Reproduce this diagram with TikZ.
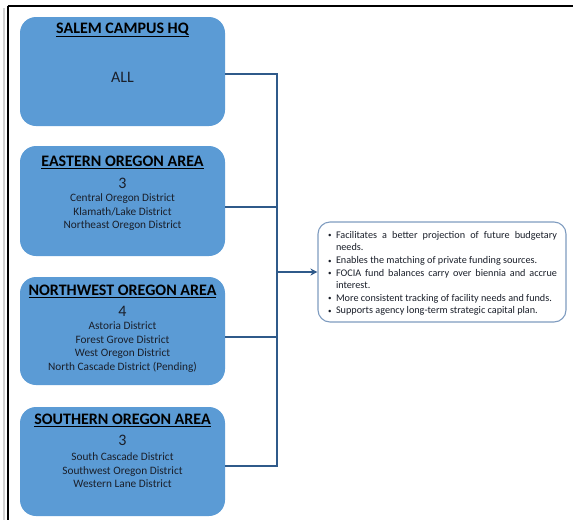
\documentclass[tikz,border=0pt]{standalone}
\usepackage{fontspec}
\setmainfont{Carlito}
\usepackage{enumitem}
\usetikzlibrary{arrows.meta}
\definecolor{boxblue}{HTML}{5B9BD5}
\definecolor{linkblue}{HTML}{2F5A8A}
\definecolor{edgeblue}{HTML}{7F9CC0}
\definecolor{inktxt}{HTML}{1A1F2A}
\tikzset{
  area/.style={draw=none, fill=boxblue, rounded corners=16pt, minimum width=205pt, inner sep=0pt},
  ttl/.style={font=\bfseries\fontsize{16}{18}\selectfont, text=black, inner sep=0pt},
  num/.style={font=\fontsize{16}{18}\selectfont, text=inktxt, inner sep=0pt},
  dist/.style={font=\fontsize{11.3}{13.5}\selectfont, text=inktxt, align=center, inner sep=0pt},
  link/.style={draw=linkblue, line width=2.6pt},
  note/.style={draw=edgeblue, line width=1.1pt, fill=white, rounded corners=12pt, minimum width=248pt, minimum height=100pt, inner sep=0pt}
}
\begin{document}
\begin{tikzpicture}[x=1pt,y=-1pt]
\useasboundingbox (0,0) rectangle (573,520);
% outer frame (clipped)
\draw[gray!35, line width=2pt] (4,8) -- (4,520);
\draw[black, line width=2pt] (7.5,6) -- (7.5,520);
\draw[black, line width=2pt] (7.5,6) -- (573,6);
% area boxes
\node[area, minimum height=109pt] (hq) at (122.5,71.5) {};
\node[area, minimum height=110pt] (ea) at (122.5,201) {};
\node[area, minimum height=108pt] (nw) at (122.5,331) {};
\node[area, minimum height=109pt] (so) at (122.5,461.5) {};
% texts
\node[ttl] (hqt) at (122.5,30) {\underline{SALEM CAMPUS HQ}};
\node[num] (hqn) at (122.5,77) {ALL};
\node[ttl] (eat) at (122.5,162) {\underline{EASTERN OREGON AREA}};
\node[num] (ean) at (122.5,183) {3};
\node[dist] (ead) at (122.5,212.5) {Central Oregon District\\Klamath/Lake District\\Northeast Oregon District};
\node[ttl] (nwt) at (122.5,291) {\underline{NORTHWEST OREGON AREA}};
\node[num] (nwn) at (122.5,311) {4};
\node[dist] (nwd) at (122.5,347) {Astoria District\\Forest Grove District\\West Oregon District\\North Cascade District (Pending)};
\node[ttl] (sot) at (122.5,420) {\underline{SOUTHERN OREGON AREA}};
\node[num] (son) at (122.5,440) {3};
\node[dist] (sod) at (122.5,470.5) {South Cascade District\\Southwest Oregon District\\Western Lane District};
% note box
\node[note] (nt) at (442,272) {};
\node[inner sep=0pt, text=inktxt] (ntx) at (442,273.5) {\begin{minipage}{230pt}\fontsize{10.2}{12.6}\selectfont\hyphenpenalty=10000\exhyphenpenalty=10000
\begin{itemize}[leftmargin=9pt,labelsep=4.5pt,itemsep=0pt,topsep=0pt,parsep=0pt,partopsep=0pt,label={\raisebox{0.5pt}{\scriptsize\textbullet}}]
\item Facilitates a better projection of future budgetary needs.
\item Enables the matching of private funding sources.
\item FOCIA fund balances carry over biennia and accrue interest.
\item More consistent tracking of facility needs and funds.
\item Supports agency long-term strategic capital plan.
\end{itemize}\end{minipage}};
% connectors
\coordinate (c1) at (225,74);
\coordinate (c2) at (225,207);
\coordinate (c3) at (225,337);
\coordinate (c4) at (225,466);
\coordinate (bt) at (277,74);
\coordinate (bb) at (277,466);
\coordinate (bm) at (277,272);
\draw[link] (c1) -- (bt) -- (bb) -- (c4);
\draw[link] (c2) -- (c2 -| bt);
\draw[link] (c3) -- (c3 -| bt);
\draw[link, -{Stealth[length=7pt,width=7pt]}] (bm) -- (nt.west);
\end{tikzpicture}
\end{document}
